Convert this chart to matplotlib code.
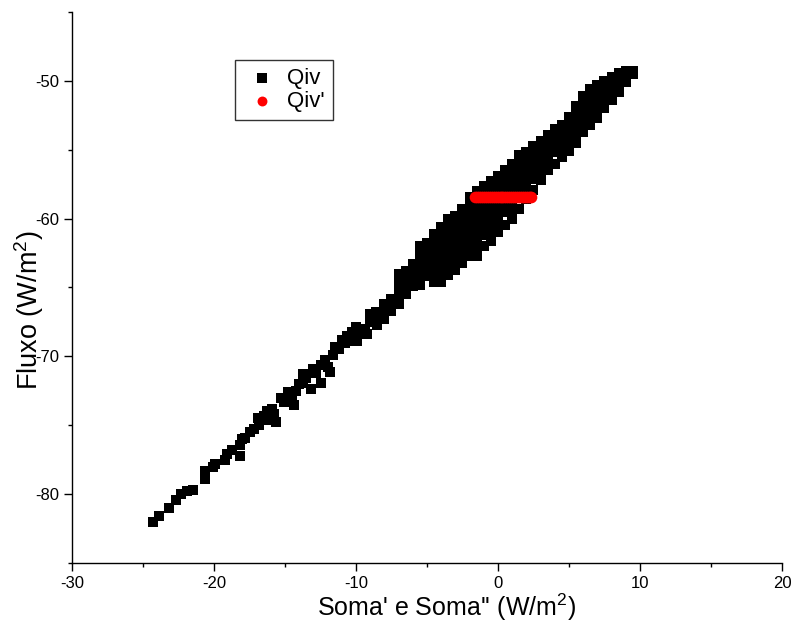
import matplotlib
matplotlib.use("Agg")
import matplotlib.pyplot as plt
from matplotlib.ticker import MultipleLocator

plt.rcParams["font.family"] = ["Liberation Sans", "DejaVu Sans"]
plt.rcParams["mathtext.fontset"] = "custom"
plt.rcParams["mathtext.rm"] = "Liberation Sans"
plt.rcParams["mathtext.it"] = "Liberation Sans"
plt.rcParams["axes.unicode_minus"] = False

# Qiv, lower (sparse) part of the cloud
tail_x = [
    -24.3, -23.9, -23.2, -22.7, -22.3, -21.9, -21.5, -20.6, -20.6, -20.1,
    -19.9, -19.2, -19.1, -18.7, -18.2, -18.2, -18.0, -17.5, -17.2, -16.8,
    -16.9, -16.5, -16.3, -15.9, -15.6, -15.3, -15.1, -14.8, -14.5, -14.4,
    -14.0, -13.7, -13.7, -13.5, -13.2, -13.0, -12.5, -12.5, -12.2, -12.0,
    -11.8, -11.6, -11.5, -11.2, -11.0, -10.6, -10.3, -10.0, -9.9, -9.6,
    -9.2, -9.0, -9.0, -8.7, -8.6, -8.5,
    -17.8, -16.1, -15.8, -14.9, -14.2, -12.8, -10.8, -10.4, -9.4,
]
tail_y = [
    -82.0, -81.6, -81.0, -80.4, -80.0, -79.8, -79.7, -78.9, -78.3, -78.0,
    -77.8, -77.5, -77.1, -76.8, -77.2, -76.4, -76.0, -75.5, -75.3, -75.0,
    -74.5, -74.3, -74.0, -73.8, -74.8, -73.0, -73.3, -72.6, -72.9, -73.5,
    -72.0, -71.9, -71.3, -71.6, -72.4, -70.9, -70.6, -71.9, -70.3, -70.8,
    -71.1, -69.9, -69.3, -69.5, -68.8, -68.5, -68.2, -67.9, -68.9, -68.2,
    -68.4, -67.5, -66.9, -67.2, -66.8, -67.7,
    -75.9, -74.6, -74.2, -73.2, -72.5, -71.2, -69.0, -68.9, -68.0,
]

# Qiv, dense upper part of the cloud (one line per column)
band_x = [
    -8.0, -8.0, -8.0,
    -7.5, -7.5, -7.5,
    -7.0, -7.0, -7.0, -7.0, -7.0,
    -6.5, -6.5, -6.5, -6.5,
    -6.0, -6.0, -6.0, -6.0,
    -5.5, -5.5, -5.5, -5.5, -5.5, -5.5,
    -5.0, -5.0, -5.0, -5.0, -5.0,
    -4.5, -4.5, -4.5, -4.5, -4.5, -4.5, -4.5,
    -4.0, -4.0, -4.0, -4.0, -4.0, -4.0, -4.0, -4.0,
    -3.5, -3.5, -3.5, -3.5, -3.5, -3.5, -3.5, -3.5,
    -3.0, -3.0, -3.0, -3.0, -3.0, -3.0, -3.0, -3.0,
    -2.5, -2.5, -2.5, -2.5, -2.5, -2.5, -2.5, -2.5,
    -2.0, -2.0, -2.0, -2.0, -2.0, -2.0, -2.0, -2.0,
    -1.5, -1.5, -1.5, -1.5, -1.5, -1.5, -1.5, -1.5, -1.5,
    -1.0, -1.0, -1.0, -1.0, -1.0, -1.0, -1.0, -1.0,
    -0.5, -0.5, -0.5, -0.5, -0.5, -0.5, -0.5, -0.5,
    0.0, 0.0, 0.0, 0.0, 0.0, 0.0, 0.0, 0.0,
    0.5, 0.5, 0.5, 0.5, 0.5, 0.5, 0.5,
    1.0, 1.0, 1.0, 1.0, 1.0, 1.0, 1.0, 1.0,
    1.5, 1.5, 1.5, 1.5, 1.5, 1.5, 1.5,
    2.0, 2.0, 2.0, 2.0, 2.0, 2.0, 2.0,
    2.5, 2.5, 2.5, 2.5, 2.5, 2.5,
    3.0, 3.0, 3.0, 3.0, 3.0, 3.0,
    3.5, 3.5, 3.5, 3.5, 3.5, 3.5,
    4.0, 4.0, 4.0, 4.0, 4.0,
    4.5, 4.5, 4.5, 4.5, 4.5,
    5.0, 5.0, 5.0, 5.0, 5.0,
    5.5, 5.5, 5.5, 5.5, 5.5, 5.5,
    6.0, 6.0, 6.0, 6.0, 6.0, 6.0,
    6.5, 6.5, 6.5, 6.5, 6.5, 6.5,
    7.0, 7.0, 7.0, 7.0, 7.0,
    7.5, 7.5, 7.5, 7.5, 7.5,
    8.0, 8.0, 8.0, 8.0, 8.0,
    8.5, 8.5, 8.5, 8.5,
    9.0, 9.0, 9.0,
    9.5, 9.5,
]
band_y = [
    -66.2, -66.8, -67.3,
    -65.8, -66.3, -66.7,
    -64.0, -64.6, -65.2, -65.7, -66.2,
    -63.8, -64.4, -65.0, -65.5,
    -63.3, -63.9, -64.4, -64.9,
    -62.0, -62.6, -63.2, -63.8, -64.3, -64.8,
    -61.8, -62.4, -63.0, -63.6, -64.2,
    -61.1, -61.7, -62.3, -62.9, -63.5, -64.1, -64.6,
    -60.6, -61.2, -61.8, -62.4, -63.0, -63.6, -64.2, -64.6,
    -60.0, -60.6, -61.2, -61.8, -62.4, -63.0, -63.6, -64.1,
    -59.8, -60.4, -61.0, -61.6, -62.2, -62.8, -63.3, -63.7,
    -59.3, -59.9, -60.5, -61.1, -61.7, -62.3, -62.8, -63.2,
    -58.4, -59.0, -59.6, -60.2, -60.8, -61.4, -62.0, -62.7,
    -58.0, -58.6, -59.2, -59.8, -60.4, -61.0, -61.6, -62.2, -62.7,
    -57.6, -58.2, -58.8, -59.4, -60.0, -60.6, -61.2, -62.0,
    -57.3, -57.9, -58.5, -59.1, -59.7, -60.3, -61.0, -61.6,
    -56.9, -57.5, -58.1, -58.7, -59.3, -59.9, -60.5, -61.0,
    -56.5, -57.1, -57.7, -58.3, -58.9, -59.5, -60.5,
    -56.0, -56.6, -57.2, -57.8, -58.4, -59.0, -59.5, -60.0,
    -55.4, -56.0, -56.6, -57.2, -57.8, -58.4, -59.3,
    -55.2, -55.8, -56.4, -57.0, -57.6, -58.1, -58.6,
    -54.7, -55.3, -55.9, -56.5, -57.1, -57.9,
    -54.4, -55.0, -55.6, -56.2, -56.7, -57.2,
    -53.9, -54.5, -55.1, -55.7, -56.1, -56.5,
    -53.5, -54.1, -54.6, -55.2, -56.0,
    -53.2, -53.8, -54.4, -55.0, -55.5,
    -52.6, -53.2, -53.8, -54.4, -55.1,
    -51.8, -52.4, -53.0, -53.6, -54.1, -54.5,
    -51.1, -51.7, -52.3, -52.9, -53.3, -53.7,
    -50.6, -51.2, -51.8, -52.4, -52.8, -53.2,
    -50.3, -50.9, -51.5, -52.1, -52.7,
    -50.0, -50.6, -51.1, -51.6, -52.0,
    -49.7, -50.2, -50.7, -51.1, -51.4,
    -49.4, -49.9, -50.4, -50.8,
    -49.3, -49.7, -50.1,
    -49.3, -49.5,
]

# Qiv' (red circles), a flat run
qivp_x = [
    -1.62, -1.48, -1.35, -1.21, -1.07, -0.93, -0.80, -0.66, -0.52, -0.38,
    -0.24, -0.10, 0.04, 0.18, 0.31, 0.45, 0.59, 0.73, 0.87, 1.01,
    1.15, 1.29, 1.43, 1.57, 1.71, 1.85, 1.99, 2.13, 2.23, 2.32,
]
qivp_y = [-58.4] * len(qivp_x)

qiv_x = tail_x + band_x
qiv_y = tail_y + band_y

fig = plt.figure(figsize=(7.95, 6.31), dpi=100)
ax = fig.add_axes([0.0906, 0.1078, 0.8930, 0.8732])

ax.scatter(qiv_x, qiv_y, marker="s", s=60, color="black", linewidths=0,
           label="Qiv", zorder=3)
ax.scatter(qivp_x, qivp_y, marker="o", s=70, color="#ff0000", linewidths=0,
           label="Qiv'", zorder=4)

ax.set_xlim(-30, 20)
ax.set_ylim(-85, -45)
ax.xaxis.set_major_locator(MultipleLocator(10))
ax.xaxis.set_minor_locator(MultipleLocator(5))
ax.yaxis.set_major_locator(MultipleLocator(10))
ax.yaxis.set_minor_locator(MultipleLocator(5))
ax.tick_params(which="major", direction="out", length=6, width=1,
               labelsize=12, colors="black")
ax.tick_params(which="minor", direction="out", length=3, width=1)

for side in ("top", "right"):
    ax.spines[side].set_visible(False)
for side in ("left", "bottom"):
    ax.spines[side].set_linewidth(1.0)

ax.set_xlabel(r"Soma' e Soma'' (W/m$^2$)", fontsize=18)
ax.set_ylabel(r"Fluxo (W/m$^2$)", fontsize=19.5)
ax.xaxis.set_label_coords(0.528, -0.052)
ax.yaxis.set_label_coords(-0.036, 0.459)

leg = ax.legend(loc="upper left", bbox_to_anchor=(0.2296, 0.913),
                borderaxespad=0, fontsize=16, frameon=True, fancybox=False,
                handletextpad=0.3, handlelength=1.7, borderpad=0.35,
                labelspacing=0.1, scatterpoints=1, markerscale=0.85)
leg.get_frame().set_edgecolor("black")
leg.get_frame().set_linewidth(1.0)

fig.savefig("out.png", dpi=100)
